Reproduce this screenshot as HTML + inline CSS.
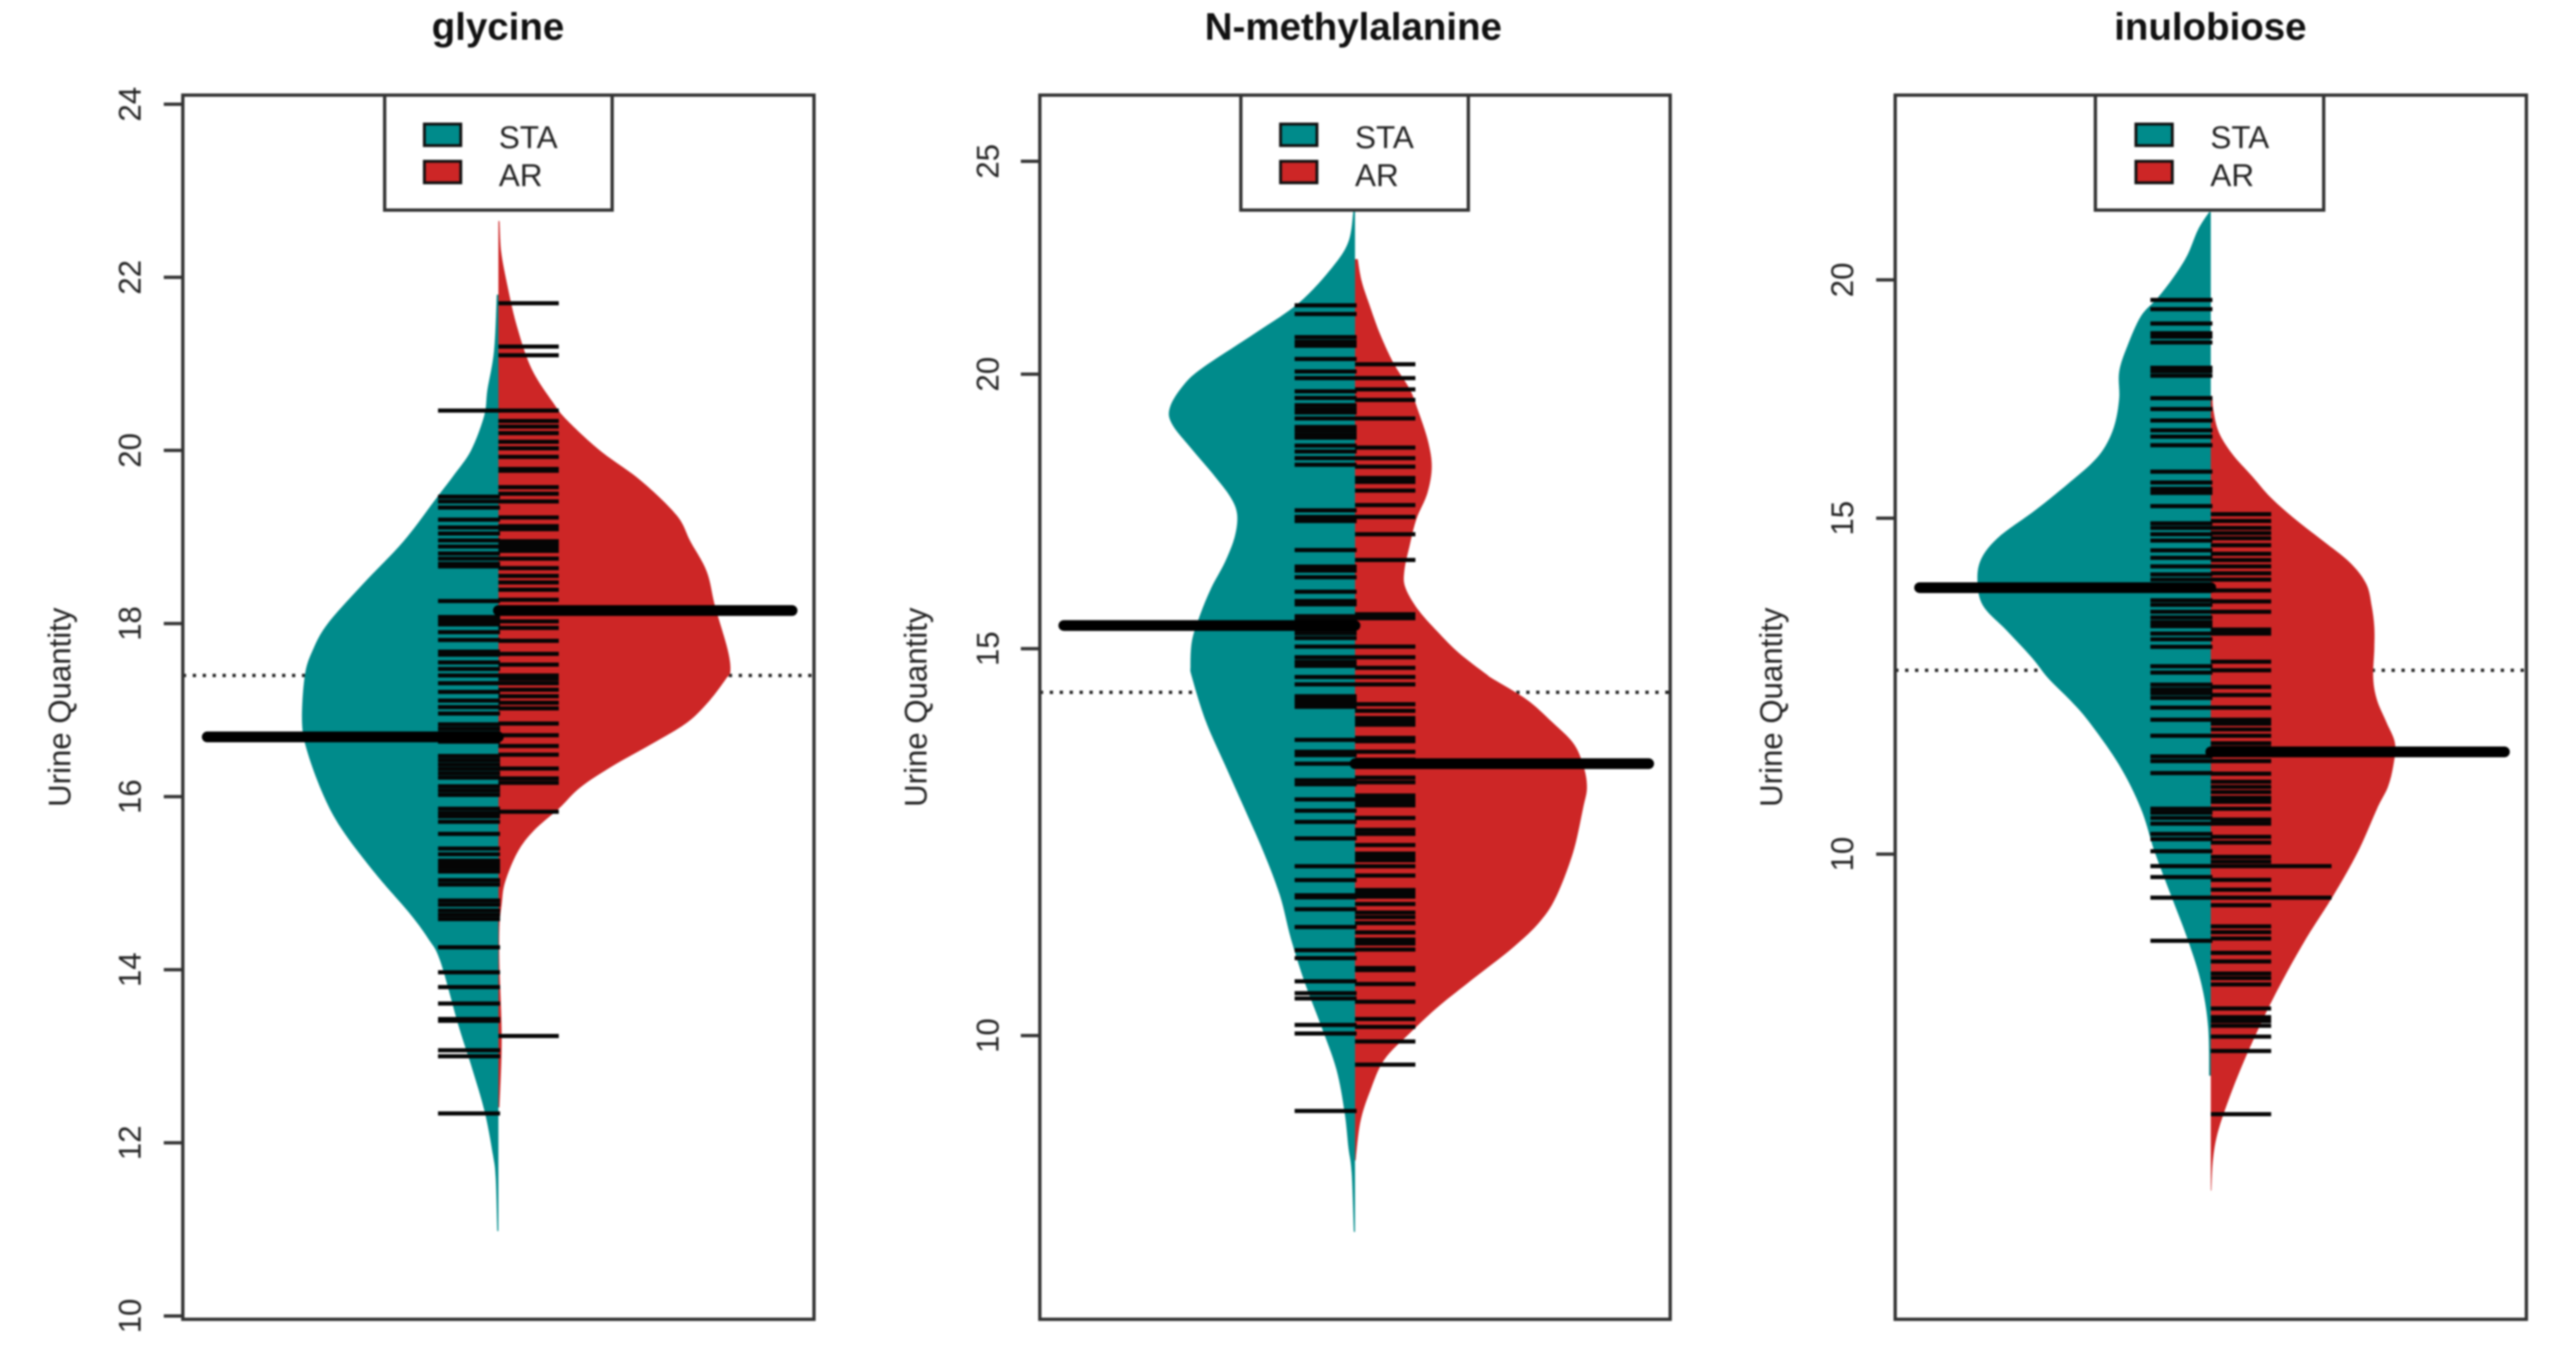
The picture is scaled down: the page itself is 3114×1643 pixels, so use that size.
<!DOCTYPE html>
<html lang="en">
<head>
<meta charset="utf-8">
<title>Bean plots: glycine, N-methylalanine, inulobiose</title>
<style>
html,body{margin:0;padding:0;background:#fff;width:3114px;height:1643px;overflow:hidden}
svg{display:block;filter:blur(1.1px)}
text{font-family:"Liberation Sans",sans-serif;fill:#222}
</style>
</head>
<body>
<svg id="chart" xmlns="http://www.w3.org/2000/svg" width="3114" height="1643" viewBox="0 0 3114 1643">
  <rect x="0" y="0" width="3114" height="1643" fill="#fff"/>
  <g id="marks-glycine"></g>
  <g id="marks-methyl"></g>
  <g id="marks-inulo"></g>

  <g>
    <text x="602" y="48" text-anchor="middle" font-size="46.5" font-weight="bold" style="fill:#111">glycine</text>
    <text transform="translate(85 855) rotate(-90)" text-anchor="middle" font-size="37.7">Urine Quantity</text>
    <rect x="221" y="115" width="763" height="1480" fill="none" stroke="#333" stroke-width="4"/>
    <g>
      <rect x="465" y="115" width="275" height="139" fill="#fff" stroke="#333" stroke-width="4"/>
      <rect x="513" y="150" width="44" height="26" fill="#008B8B" stroke="#111" stroke-width="3.5"/>
      <rect x="513" y="195" width="44" height="26" fill="#CD2626" stroke="#111" stroke-width="3.5"/>
      <text x="603" y="179" font-size="38">STA</text>
      <text x="603" y="225" font-size="38">AR</text>
    </g>
  </g>

  <g>
    <text x="1636" y="48" text-anchor="middle" font-size="46.5" font-weight="bold" style="fill:#111">N-methylalanine</text>
    <text transform="translate(1120 855) rotate(-90)" text-anchor="middle" font-size="37.7">Urine Quantity</text>
    <rect x="1257" y="115" width="762" height="1480" fill="none" stroke="#333" stroke-width="4"/>
    <g>
      <rect x="1500" y="115" width="275" height="139" fill="#fff" stroke="#333" stroke-width="4"/>
      <rect x="1548" y="150" width="44" height="26" fill="#008B8B" stroke="#111" stroke-width="3.5"/>
      <rect x="1548" y="195" width="44" height="26" fill="#CD2626" stroke="#111" stroke-width="3.5"/>
      <text x="1638" y="179" font-size="38">STA</text>
      <text x="1638" y="225" font-size="38">AR</text>
    </g>
  </g>

  <g>
    <text x="2672" y="48" text-anchor="middle" font-size="46.5" font-weight="bold" style="fill:#111">inulobiose</text>
    <text transform="translate(2154 855) rotate(-90)" text-anchor="middle" font-size="37.7">Urine Quantity</text>
    <rect x="2291" y="115" width="763" height="1480" fill="none" stroke="#333" stroke-width="4"/>
    <g>
      <rect x="2533" y="115" width="276" height="139" fill="#fff" stroke="#333" stroke-width="4"/>
      <rect x="2582" y="150" width="44" height="26" fill="#008B8B" stroke="#111" stroke-width="3.5"/>
      <rect x="2582" y="195" width="44" height="26" fill="#CD2626" stroke="#111" stroke-width="3.5"/>
      <text x="2672" y="179" font-size="38">STA</text>
      <text x="2672" y="225" font-size="38">AR</text>
    </g>
  </g>

  <g id="axes"></g>
</svg>

<script>
/* ---------- glycine (linear axis, raw quantity) ---------- */
const glycineTicks = [10, 12, 14, 16, 18, 20, 22, 24];
const glycineStaLevels = [21.8,21.15,20.7,20.4,20,19.7,19.45,18.95,18.45,18,17.7,17.4,16.86,16.51,16,15.6,15.1,14.66,14.36,14.1,13.36,12.86,12.36,11.86,11.6,10.98];
const glycineStaDensity = [0.003,0.008,0.02,0.026,0.05,0.083,0.113,0.173,0.248,0.311,0.338,0.353,0.358,0.348,0.318,0.283,0.223,0.163,0.128,0.106,0.073,0.048,0.025,0.01,0.005,0.002];
const glycineArLevels = [22.65,22.3,21.95,21.45,20.95,20.55,20.35,20,19.65,19.25,18.95,18.6,18.2,17.7,17.45,17.36,17.11,16.86,16.61,16.36,16.11,15.86,15.61,15.36,15.01,14.76,14.5,14.06,13.2,12.41];
const glycineArDensity = [0.002,0.005,0.015,0.033,0.06,0.1,0.125,0.185,0.26,0.325,0.35,0.38,0.395,0.418,0.423,0.415,0.385,0.345,0.28,0.21,0.15,0.11,0.065,0.035,0.012,0.006,0.002,0.002,0.006,0.002];
const glycineStaRug = [20.46,19.465,19.41,19.34,19.2,19.11,19.04,18.96,18.89,18.81,18.75,18.69,18.66,18.26,18.075,18.035,17.99,17.9,17.81,17.675,17.64,17.55,17.475,17.4,17.31,17.21,17.11,17.035,16.96,16.835,16.785,16.735,16.685,16.635,16.47,16.42,16.37,16.32,16.27,16.22,16.12,16.07,16.02,15.86,15.81,15.77,15.71,15.57,15.4,15.335,15.26,15.22,15.18,15.135,15.035,14.985,14.8,14.75,14.685,14.635,14.585,14.26,13.97,13.8,13.61,13.43,13.41,13.07,13,12.34];
const glycineArRug = [21.7,21.2,21.1,20.46,20.34,20.275,20.2,20.1,20.025,19.925,19.785,19.765,19.575,19.5,19.41,19.225,19.125,19.09,18.95,18.91,18.875,18.84,18.75,18.64,18.55,18.475,18.39,18.275,18.025,17.95,17.8,17.65,17.525,17.4,17.36,17.31,17.235,17.16,17.085,17.02,16.845,16.71,16.585,16.485,16.325,16.21,16.16,15.825,13.235];
const glycineMeans = [16.69, 18.15];
const glycineGrandMean = 17.4;

/* ---------- N-methylalanine (log axis, values stored as log2 quantity) ---------- */
const methylTicks = [10, 15, 20, 25];
const methylStaLevels = [4.568,4.522,4.483,4.43,4.384,4.332,4.306,4.273,4.247,4.208,4.169,4.136,4.11,4.077,4.038,3.999,3.959,3.92,3.881,3.863,3.797,3.731,3.666,3.6,3.534,3.469,3.403,3.337,3.271,3.206,3.153,3.114,3.025];
const methylStaDensity = [0.003,0.012,0.042,0.102,0.182,0.277,0.312,0.337,0.334,0.297,0.257,0.227,0.215,0.219,0.237,0.262,0.282,0.297,0.3,0.297,0.272,0.237,0.202,0.167,0.137,0.117,0.092,0.062,0.034,0.019,0.012,0.006,0.002];
const methylArLevels = [4.496,4.463,4.43,4.384,4.339,4.299,4.267,4.221,4.182,4.142,4.103,4.064,4.025,3.999,3.966,3.933,3.9,3.868,3.863,3.83,3.797,3.764,3.731,3.698,3.666,3.6,3.534,3.495,3.455,3.403,3.363,3.324,3.285,3.239,3.192,3.133];
const methylArDensity = [0.005,0.012,0.025,0.045,0.07,0.1,0.115,0.133,0.14,0.132,0.112,0.1,0.09,0.092,0.115,0.15,0.19,0.24,0.248,0.313,0.358,0.398,0.416,0.423,0.416,0.398,0.368,0.338,0.288,0.208,0.148,0.098,0.053,0.028,0.01,0.001];
const methylStaRug = [4.426,4.413,4.378,4.371,4.365,4.345,4.326,4.316,4.296,4.286,4.275,4.269,4.264,4.255,4.242,4.237,4.231,4.226,4.214,4.205,4.195,4.185,4.116,4.106,4.1,4.056,4.031,4.025,4.015,3.993,3.979,3.974,3.956,3.95,3.943,3.936,3.93,3.923,3.91,3.894,3.887,3.881,3.864,3.853,3.835,3.83,3.825,3.819,3.769,3.751,3.746,3.733,3.708,3.702,3.679,3.662,3.645,3.62,3.578,3.557,3.534,3.531,3.513,3.486,3.451,3.439,3.404,3.386,3.378,3.338,3.325,3.208];
const methylArRug = [4.337,4.316,4.299,4.283,4.255,4.211,4.195,4.182,4.165,4.159,4.146,4.124,4.106,4.08,4.041,3.959,3.953,3.91,3.894,3.878,3.864,3.853,3.823,3.813,3.802,3.797,3.792,3.772,3.767,3.751,3.739,3.734,3.729,3.712,3.705,3.685,3.68,3.675,3.67,3.651,3.633,3.627,3.61,3.597,3.592,3.587,3.578,3.564,3.542,3.537,3.532,3.521,3.508,3.501,3.492,3.478,3.467,3.461,3.452,3.424,3.421,3.4,3.373,3.347,3.335,3.313,3.278];
const methylMeans = [3.942, 3.733];
const methylGrandMean = 3.841;

/* ---------- inulobiose (log axis, values stored as log2 quantity) ---------- */
const inuloTicks = [10, 15, 20];
const inuloStaLevels = [4.44,4.41,4.365,4.327,4.29,4.259,4.207,4.162,4.116,4.071,4.033,4.003,3.966,3.92,3.875,3.838,3.8,3.755,3.71,3.664,3.628,3.59,3.552,3.477,3.401,3.326,3.25,3.175,3.099,3.023,2.936];
const inuloStaDensity = [0.003,0.023,0.043,0.068,0.098,0.128,0.153,0.168,0.168,0.176,0.193,0.218,0.263,0.323,0.388,0.42,0.428,0.418,0.373,0.328,0.298,0.258,0.223,0.168,0.128,0.103,0.073,0.043,0.018,0.005,0.003];
const inuloArLevels = [4.12,4.094,4.056,4.018,3.981,3.943,3.905,3.868,3.83,3.793,3.755,3.717,3.68,3.628,3.59,3.552,3.515,3.477,3.439,3.401,3.326,3.25,3.175,3.099,3.023,2.948,2.887,2.834,2.789,2.736];
const inuloArDensity = [0.003,0.005,0.015,0.04,0.075,0.11,0.155,0.205,0.255,0.285,0.295,0.3,0.3,0.298,0.305,0.322,0.338,0.335,0.325,0.305,0.27,0.225,0.175,0.13,0.09,0.055,0.03,0.012,0.004,0.001];
const inuloStaRug = [4.287,4.271,4.246,4.229,4.223,4.213,4.169,4.163,4.155,4.116,4.097,4.077,4.06,4.049,4.034,3.988,3.969,3.958,3.951,3.928,3.898,3.89,3.879,3.868,3.851,3.838,3.823,3.809,3.8,3.786,3.764,3.756,3.744,3.734,3.726,3.719,3.706,3.696,3.683,3.649,3.638,3.617,3.609,3.602,3.594,3.577,3.556,3.528,3.492,3.484,3.463,3.401,3.394,3.385,3.375,3.357,3.348,3.327,3.301,3.282,3.246,3.171];
const inuloArRug = [3.914,3.902,3.89,3.881,3.872,3.86,3.845,3.834,3.823,3.811,3.8,3.781,3.762,3.744,3.713,3.706,3.657,3.642,3.613,3.599,3.577,3.556,3.549,3.539,3.528,3.515,3.507,3.5,3.484,3.462,3.448,3.439,3.43,3.42,3.413,3.401,3.382,3.375,3.352,3.342,3.317,3.309,3.301,3.301,3.277,3.26,3.246,3.246,3.233,3.196,3.186,3.175,3.15,3.135,3.114,3.106,3.095,3.053,3.038,3.031,3.023,3.004,2.979,2.869];
const inuloMeans = [3.786, 3.5];
const inuloGrandMean = 3.642;

const SVG_NS = 'http://www.w3.org/2000/svg';
const TEAL = '#008B8B';
const RED = '#CD2626';

/* y-axis functions: data value -> pixel row */
function glycineY(v) { return 126 + (24 - v) * 104.64; }
function methylY(l) { return 1252 - (l - Math.log2(10)) * 799.6; }
function inuloY(l) { return 1032.6 - (l - Math.log2(10)) * 694.2; }

function make(tag, parent, attrs) {
  const el = document.createElementNS(SVG_NS, tag);
  for (const k in attrs) el.setAttribute(k, attrs[k]);
  parent.appendChild(el);
  return el;
}

function smoothOutline(pts) {
  let d = 'L' + pts[0][0].toFixed(1) + ' ' + pts[0][1].toFixed(1);
  for (let i = 0; i < pts.length - 1; i++) {
    const p0 = pts[Math.max(i - 1, 0)];
    const p1 = pts[i];
    const p2 = pts[i + 1];
    const p3 = pts[Math.min(i + 2, pts.length - 1)];
    const c1x = p1[0] + (p2[0] - p0[0]) / 6;
    const c1y = p1[1] + (p2[1] - p0[1]) / 6;
    const c2x = p2[0] - (p3[0] - p1[0]) / 6;
    const c2y = p2[1] - (p3[1] - p1[1]) / 6;
    d += 'C' + c1x.toFixed(1) + ' ' + c1y.toFixed(1) + ' ' + c2x.toFixed(1) + ' ' + c2y.toFixed(1) + ' ' + p2[0].toFixed(1) + ' ' + p2[1].toFixed(1);
  }
  return d;
}

function drawBeanSide(parent, prefix, group, levels, density, yFn, cx, dir, xScale, color) {
  const pts = levels.map((lv, i) => [cx + dir * density[i] * xScale, yFn(lv)]);
  const first = yFn(levels[0]);
  const last = yFn(levels[levels.length - 1]);
  const bean = make('path', parent, {
    d: 'M' + cx + ' ' + first.toFixed(1) + smoothOutline(pts) + 'L' + cx + ' ' + last.toFixed(1) + 'Z',
    fill: color
  });
  
  
}

function drawRug(parent, prefix, group, values, yFn, cx, dir) {
  const counts = {};
  values.forEach(v => { counts[v] = (counts[v] || 0) + 1; });
  Object.keys(counts).forEach(key => {
    const v = Number(key);
    const tick = make('line', parent, {
      x1: cx + (dir < 0 ? 2 : 0), x2: cx + dir * 73 * counts[key],
      y1: yFn(v), y2: yFn(v),
      stroke: '#050505', 'stroke-width': 5
    });
    
    
  });
}

function drawPanel(cfg) {
  const g = document.getElementById(cfg.id);
  const grand = make('line', g, {
    x1: cfg.left, x2: cfg.right,
    y1: cfg.y(cfg.grandMean), y2: cfg.y(cfg.grandMean),
    stroke: '#222', 'stroke-width': 4, 'stroke-dasharray': '4 8'
  });
  
  

  drawBeanSide(g, cfg.prefix, 'sta', cfg.staLevels, cfg.staDensity, cfg.y, cfg.cx, -1, cfg.xScale, TEAL);
  drawBeanSide(g, cfg.prefix, 'ar', cfg.arLevels, cfg.arDensity, cfg.y, cfg.cx, 1, cfg.xScale, RED);
  drawRug(g, cfg.prefix, 'sta', cfg.staRug, cfg.y, cfg.cx, -1);
  drawRug(g, cfg.prefix, 'ar', cfg.arRug, cfg.y, cfg.cx, 1);

  const staMean = make('line', g, {
    x1: cfg.cx, x2: cfg.cx - 352,
    y1: cfg.y(cfg.means[0]), y2: cfg.y(cfg.means[0]),
    stroke: '#000', 'stroke-width': 13, 'stroke-linecap': 'round'
  });
  
  

  const arMean = make('line', g, {
    x1: cfg.cx, x2: cfg.cx + 355,
    y1: cfg.y(cfg.means[1]), y2: cfg.y(cfg.means[1]),
    stroke: '#000', 'stroke-width': 13, 'stroke-linecap': 'round'
  });
  
  

  const axes = document.getElementById('axes');
  cfg.ticks.forEach(t => {
    const py = cfg.tickY(t);
    const mark = make('line', axes, {
      x1: cfg.left - 23, x2: cfg.left,
      y1: py, y2: py,
      stroke: '#333', 'stroke-width': 4
    });
    
    

    const label = make('text', axes, {
      transform: 'translate(' + cfg.labelX + ' ' + py + ') rotate(-90)',
      'text-anchor': 'middle',
      'font-size': 37.7
    });
    label.textContent = String(t);
    
    
  });
}

drawPanel({
  id: 'marks-glycine', prefix: 'glycine', cx: 602.5, left: 221, right: 984, xScale: 663, labelX: 170,
  y: glycineY, tickY: glycineY, ticks: glycineTicks,
  staLevels: glycineStaLevels, staDensity: glycineStaDensity,
  arLevels: glycineArLevels, arDensity: glycineArDensity,
  staRug: glycineStaRug, arRug: glycineArRug, means: glycineMeans, grandMean: glycineGrandMean
});
drawPanel({
  id: 'marks-methyl', prefix: 'n-methylalanine', cx: 1638, left: 1257, right: 2019, xScale: 663, labelX: 1207,
  y: methylY, tickY: t => methylY(Math.log2(t)), ticks: methylTicks,
  staLevels: methylStaLevels, staDensity: methylStaDensity,
  arLevels: methylArLevels, arDensity: methylArDensity,
  staRug: methylStaRug, arRug: methylArRug, means: methylMeans, grandMean: methylGrandMean
});
drawPanel({
  id: 'marks-inulo', prefix: 'inulobiose', cx: 2672.5, left: 2291, right: 3054, xScale: 659, labelX: 2240,
  y: inuloY, tickY: t => inuloY(Math.log2(t)), ticks: inuloTicks,
  staLevels: inuloStaLevels, staDensity: inuloStaDensity,
  arLevels: inuloArLevels, arDensity: inuloArDensity,
  staRug: inuloStaRug, arRug: inuloArRug, means: inuloMeans, grandMean: inuloGrandMean
});
</script>
</body>
</html>
